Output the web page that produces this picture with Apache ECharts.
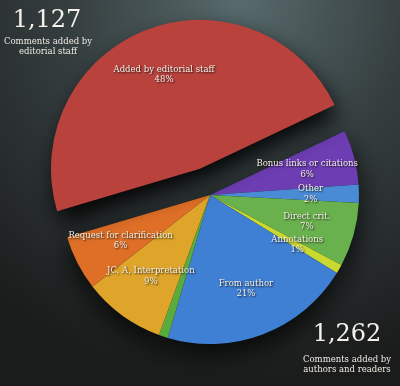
<!DOCTYPE html>
<html><head><meta charset="utf-8">
<script src="https://cdn.jsdelivr.net/npm/echarts@6/dist/echarts.min.js"></script>
<style>html,body{margin:0;padding:0;background:#222;}#c{width:400px;height:386px;}</style>
</head><body><div id="c"></div>
<script>
const categories = ['Added by editorial staff','Bonus links or citations','Other','Direct crit.','Annotations','From author','Spam','JC, A, Interpretation','Request for clarification'];
const values = [48, 6, 2, 7, 1, 21, 1, 9, 6];
const colors = ['#b9423d','#6d3db3','#4a8bd6','#68b14d','#c9d92f','#3f7fd4','#5aab3d','#dfa42a','#df6f27'];
const totals = ['1,127', '1,262'];
const totalNotes = ['Comments added by\neditorial staff', 'Comments added by\nauthors and readers'];

const FONT = 'DejaVu Serif';
const CENTER = [210, 195];
const R = 149;
const START = 196.5;
const OFFSET = 28;

function mkData(fn) {
  return categories.map((name, i) => Object.assign({ name: name, value: values[i] }, fn(i)));
}
const base = {
  type: 'pie', center: CENTER, startAngle: START, clockwise: true,
  animation: false, silent: true, avoidLabelOverlap: false,
  selectedMode: 'single', selectedOffset: OFFSET,
  emphasis: { disabled: true }, labelLine: { show: false }
};

const chart = echarts.init(document.getElementById('c'), null, { renderer: 'canvas' });
chart.setOption({
  animation: false,
  graphic: [
    { type: 'rect', z: -100, shape: { x: 0, y: 0, width: 400, height: 386 },
      style: { fill: { type: 'radial', x: 0.6, y: 0.0, r: 1.0, colorStops: [
        { offset: 0, color: '#586a6c' }, { offset: 0.45, color: '#353e3f' }, { offset: 1, color: '#1a1b1b' } ] } } },
    { type: 'text', z: 100, x: 47, y: 21, style: { text: totals[0], fill: '#f4f1ea', font: '24px "' + FONT + '"', align: 'center', verticalAlign: 'middle' } },
    { type: 'text', z: 100, x: 48, y: 47, style: { text: totalNotes[0], fill: '#eeeae2', font: '8.5px "' + FONT + '"', lineHeight: 10.5, align: 'center', verticalAlign: 'middle' } },
    { type: 'text', z: 100, x: 347, y: 335, style: { text: totals[1], fill: '#f4f1ea', font: '24px "' + FONT + '"', align: 'center', verticalAlign: 'middle' } },
    { type: 'text', z: 100, x: 347, y: 365, style: { text: totalNotes[1], fill: '#eeeae2', font: '8.5px "' + FONT + '"', lineHeight: 10.5, align: 'center', verticalAlign: 'middle' } }
  ],
  series: [
    Object.assign({}, base, { z: 1, radius: [0, R], label: { show: false },
      data: mkData(i => i === 0 ? { itemStyle: { color: 'rgba(0,0,0,0)' } } :
        { itemStyle: { color: '#111', shadowBlur: 28, shadowColor: 'rgba(0,0,0,0.85)', shadowOffsetY: 10 } }) }),
    Object.assign({}, base, { z: 2, radius: [0, R], label: { show: false },
      data: mkData(i => i === 0 ? { itemStyle: { color: 'rgba(0,0,0,0)' } } : { itemStyle: { color: colors[i] } }) }),
    Object.assign({}, base, { z: 3, radius: [0, R], label: { show: false },
      data: mkData(i => i === 0 ? { selected: true, itemStyle: { color: colors[0], shadowBlur: 22, shadowColor: 'rgba(0,0,0,0.9)', shadowOffsetX: 4, shadowOffsetY: 12 } } :
        { itemStyle: { color: 'rgba(0,0,0,0)' } }) }),
    Object.assign({}, base, { z: 4, radius: [46, R],
      label: { show: true, position: 'inside', rotate: 0, formatter: '{b}\n{c}%', color: '#f4f0e6',
        fontFamily: FONT, fontSize: 8.5, lineHeight: 10.5, align: 'center',
        textShadowColor: 'rgba(0,0,0,0.85)', textShadowBlur: 2, textShadowOffsetX: 1, textShadowOffsetY: 1 },
      itemStyle: { color: 'rgba(0,0,0,0)' },
      data: mkData(i => i === 0 ? { selected: true } : {}) })
  ]
});
</script></body></html>
